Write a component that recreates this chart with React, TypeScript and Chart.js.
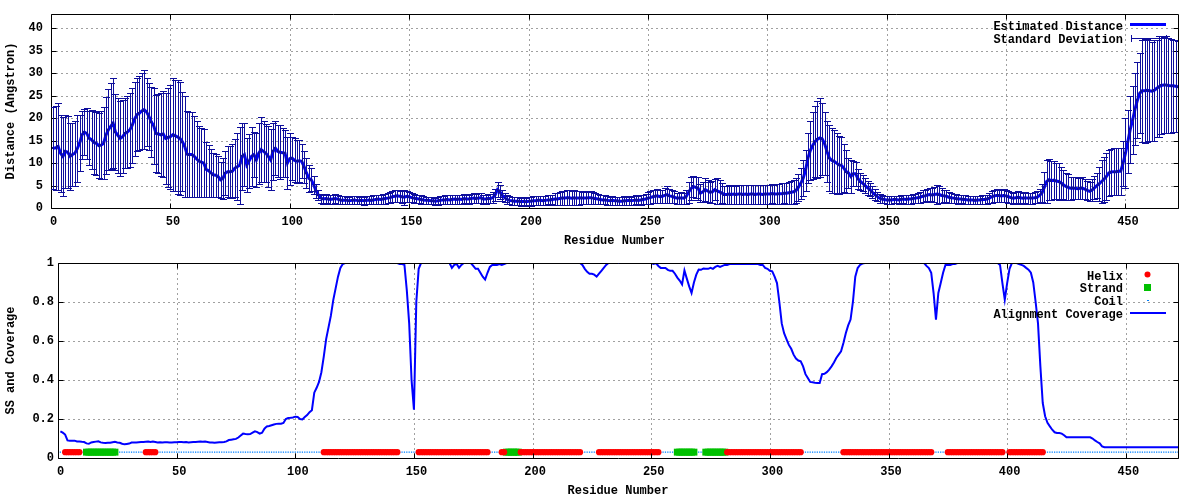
import React, { useEffect, useRef } from 'react';
import { Chart, registerables } from 'chart.js';

Chart.register(...registerables);

// ---------------- data ----------------
const xTicks = [0, 50, 100, 150, 200, 250, 300, 350, 400, 450];
const distanceTicks = [0, 5, 10, 15, 20, 25, 30, 35, 40];
const coverageTicks = [0, 0.2, 0.4, 0.6, 0.8, 1];
const xMax = 472;
const distanceMax = 43.2;
const ssTrackValue = 0.03;

// Estimated distance per residue (residue 1..472)
const meanDistance = [
  13.3, 13.4, 13.7, 12.2, 11.5, 12.6, 12.4, 11.5, 11.9, 12.2,
  13.2, 14.5, 16.3, 16.9, 16.6, 15.5, 15.2, 14.6, 14.4, 13.9,
  14.0, 14.4, 16.2, 17.4, 18.2, 18.9, 16.9, 16.2, 15.5, 15.9,
  16.6, 16.9, 17.4, 18.4, 19.8, 20.8, 21.1, 21.6, 21.9, 21.4,
  20.4, 19.2, 18.3, 16.6, 16.5, 16.3, 16.5, 15.5, 15.7, 15.9,
  16.3, 16.1, 15.8, 15.5, 14.8, 13.7, 12.0, 11.9, 11.9, 11.5,
  10.9, 10.4, 10.2, 10.0, 8.6, 8.3, 7.8, 7.4, 7.3, 7.0,
  6.3, 6.6, 7.8, 8.1, 8.1, 8.2, 8.9, 9.2, 9.5, 11.5,
  11.9, 9.6, 10.5, 11.5, 11.9, 10.7, 12.2, 13.0, 12.6, 12.2,
  11.5, 10.7, 12.6, 13.3, 12.6, 12.4, 12.3, 12.2, 10.0, 11.0,
  11.1, 10.6, 10.4, 10.5, 10.4, 9.2, 7.8, 6.6, 6.3, 5.2,
  3.8, 2.9, 2.2, 2.0, 2.1, 2.0, 1.9, 2.0, 2.1, 2.0,
  1.8, 1.7, 1.8, 1.7, 1.6, 1.7, 1.8, 1.7, 1.6, 1.7,
  1.6, 1.7, 1.8, 1.7, 1.8, 1.9, 2.0, 1.9, 2.0, 2.1,
  2.2, 2.3, 2.5, 2.6, 2.7, 2.6, 2.5, 2.4, 2.6, 2.5,
  2.3, 2.2, 2.1, 2.0, 1.9, 1.8, 1.7, 1.7, 1.6, 1.6,
  1.5, 1.6, 1.7, 1.8, 1.8, 1.9, 1.8, 1.9, 2.0, 1.9,
  2.0, 1.9, 2.1, 2.0, 2.0, 2.1, 2.2, 2.1, 2.2, 2.3,
  2.0, 2.0, 2.1, 2.1, 2.3, 2.9, 4.1, 3.6, 2.8, 2.3,
  1.9, 1.7, 1.6, 1.5, 1.5, 1.5, 1.4, 1.5, 1.4, 1.5,
  1.5, 1.6, 1.6, 1.7, 1.7, 1.6, 1.7, 1.8, 1.8, 1.9,
  2.0, 2.0, 2.1, 2.2, 2.2, 2.3, 2.3, 2.2, 2.3, 2.2,
  2.2, 2.3, 2.2, 2.2, 2.3, 2.3, 2.2, 2.1, 2.0, 1.9,
  1.8, 1.8, 1.7, 1.6, 1.7, 1.6, 1.6, 1.5, 1.5, 1.6,
  1.6, 1.7, 1.6, 1.7, 1.8, 1.7, 1.8, 1.9, 2.0, 2.2,
  2.3, 2.5, 2.6, 2.7, 2.5, 2.6, 2.8, 3.0, 2.7, 2.6,
  2.4, 2.2, 2.2, 2.3, 2.2, 2.5, 3.5, 4.3, 4.8, 4.6,
  4.4, 3.3, 3.6, 4.1, 3.8, 3.5, 3.6, 4.1, 3.8, 3.6,
  3.3, 3.0, 3.0, 3.1, 3.0, 3.1, 3.0, 3.1, 3.1, 3.0,
  3.1, 3.0, 3.1, 3.1, 3.0, 3.1, 3.1, 3.0, 3.1, 3.1,
  3.1, 3.2, 3.1, 3.1, 3.2, 3.2, 3.3, 3.3, 3.4, 3.5,
  3.6, 3.9, 4.6, 5.5, 6.6, 8.4, 11.1, 12.8, 13.9, 14.8,
  15.3, 15.6, 15.4, 14.3, 12.6, 11.1, 10.6, 10.4, 10.0, 9.6,
  9.5, 8.9, 8.1, 7.8, 7.0, 7.6, 7.6, 6.5, 5.9, 5.5,
  5.0, 4.5, 4.1, 3.5, 3.0, 2.6, 2.2, 2.0, 1.9, 1.8,
  1.8, 1.8, 1.9, 1.9, 1.8, 1.9, 2.0, 1.9, 2.0, 2.0,
  2.1, 2.2, 2.3, 2.4, 2.6, 2.7, 2.9, 3.0, 2.9, 3.0,
  3.1, 3.0, 2.8, 2.7, 2.6, 2.4, 2.3, 2.2, 2.1, 2.0,
  2.0, 1.9, 1.9, 1.8, 1.8, 1.8, 1.7, 1.8, 1.8, 1.9,
  1.9, 2.0, 2.2, 2.5, 2.7, 2.8, 2.8, 2.7, 2.8, 2.7,
  2.5, 2.3, 2.2, 2.3, 2.4, 2.3, 2.2, 2.3, 2.2, 2.2,
  2.2, 2.3, 2.4, 2.8, 3.3, 4.6, 5.9, 6.3, 6.1, 6.2,
  6.0, 5.9, 5.6, 5.2, 4.8, 4.6, 4.4, 4.4, 4.4, 4.3,
  4.4, 4.4, 4.2, 3.9, 3.7, 4.0, 4.5, 5.0, 5.4, 5.9,
  6.4, 7.0, 7.8, 8.0, 8.1, 8.1, 8.2, 8.2, 10.0, 12.2,
  14.8, 17.5, 19.6, 22.0, 24.0, 25.6, 26.1, 26.1, 26.2, 26.1,
  26.0, 26.2, 26.6, 27.0, 27.3, 27.4, 27.4, 27.3, 27.2, 27.2,
  27.1, 27.0,
];

// Standard deviation per residue (residue 1..472)
const stdDeviation = [
  9.1, 9.3, 9.6, 8.6, 8.8, 8.2, 8.0, 7.4, 7.0, 7.2,
  7.4, 6.2, 5.4, 5.2, 5.6, 6.0, 6.6, 7.0, 7.0, 7.2,
  7.6, 8.0, 8.6, 9.0, 9.6, 10.1, 8.5, 8.4, 8.4, 8.2,
  7.8, 8.0, 8.2, 8.3, 8.3, 8.1, 8.2, 8.4, 8.8, 7.5,
  7.4, 7.8, 8.4, 8.6, 8.8, 9.2, 9.6, 10.2, 11.0, 11.6,
  12.6, 12.4, 12.6, 12.5, 11.1, 11.2, 9.5, 9.4, 9.4, 9.0,
  8.4, 7.9, 7.7, 7.5, 6.1, 5.8, 5.3, 4.9, 4.8, 4.5,
  4.0, 4.5, 5.0, 5.6, 5.8, 6.0, 6.4, 7.4, 8.5, 7.5,
  7.0, 6.0, 6.0, 6.5, 5.0, 6.0, 6.8, 7.2, 6.8, 6.5,
  6.8, 6.8, 6.3, 6.0, 5.8, 6.0, 5.5, 5.2, 5.8, 5.8,
  4.8, 4.9, 4.8, 4.6, 3.8, 3.6, 3.4, 3.0, 2.6, 2.0,
  1.6, 1.2, 1.0, 1.0, 1.0, 1.0, 1.0, 1.0, 1.0, 1.0,
  0.9, 0.9, 0.9, 0.8, 0.8, 0.9, 0.9, 0.9, 0.8, 0.9,
  0.9, 0.9, 0.9, 0.9, 1.0, 1.0, 1.0, 1.0, 1.1, 1.1,
  1.1, 1.2, 1.2, 1.3, 1.3, 1.2, 1.3, 1.7, 1.2, 1.1,
  1.0, 1.0, 0.9, 0.9, 0.9, 0.9, 0.8, 0.8, 0.8, 0.8,
  0.8, 0.9, 0.9, 0.9, 1.0, 1.0, 1.0, 1.0, 1.0, 1.0,
  1.0, 1.0, 1.0, 1.0, 1.0, 1.0, 1.1, 1.0, 1.1, 1.1,
  1.0, 1.0, 1.0, 1.0, 1.2, 1.4, 1.7, 1.5, 1.2, 1.0,
  0.9, 0.9, 0.9, 0.9, 0.9, 0.9, 0.9, 0.9, 0.9, 0.9,
  1.0, 1.0, 1.0, 1.0, 1.0, 1.0, 1.0, 1.0, 1.1, 1.1,
  1.3, 1.3, 1.4, 1.5, 1.5, 1.6, 1.6, 1.5, 1.6, 1.5,
  1.5, 1.5, 1.4, 1.4, 1.5, 1.5, 1.4, 1.3, 1.2, 1.1,
  1.0, 1.0, 1.0, 0.9, 1.0, 0.9, 0.9, 0.9, 0.9, 1.0,
  0.9, 1.0, 0.9, 1.0, 1.0, 1.0, 1.1, 1.1, 1.2, 1.3,
  1.4, 1.4, 1.5, 1.5, 1.4, 1.5, 1.7, 1.8, 1.6, 1.5,
  1.3, 1.2, 1.2, 1.3, 1.2, 1.6, 2.3, 2.5, 2.3, 2.4,
  2.6, 2.0, 2.3, 2.6, 2.4, 2.3, 2.4, 2.3, 2.8, 2.6,
  2.2, 2.0, 2.0, 2.1, 2.0, 2.1, 2.0, 2.1, 2.1, 2.1,
  2.1, 2.1, 2.1, 2.1, 2.1, 2.1, 2.1, 2.1, 2.1, 2.1,
  2.1, 2.1, 2.1, 2.2, 2.2, 2.3, 2.2, 2.3, 2.4, 2.5,
  2.6, 2.8, 3.0, 3.4, 4.0, 4.6, 5.6, 6.5, 7.5, 8.0,
  8.6, 8.8, 8.0, 7.0, 6.8, 7.3, 7.3, 7.0, 6.8, 6.4,
  6.2, 5.3, 4.8, 3.3, 3.6, 2.8, 2.6, 2.2, 2.0, 1.8,
  1.6, 1.5, 1.4, 1.3, 1.2, 1.0, 1.0, 0.9, 0.8, 0.8,
  0.8, 0.8, 0.8, 0.8, 0.9, 0.9, 0.9, 0.9, 1.0, 1.0,
  1.0, 1.0, 1.1, 1.2, 1.3, 1.3, 1.4, 1.5, 1.6, 1.6,
  2.1, 1.8, 1.6, 1.4, 1.3, 1.2, 1.1, 1.0, 1.0, 1.0,
  0.9, 0.9, 0.9, 0.9, 0.9, 0.9, 0.9, 0.9, 0.9, 0.9,
  0.9, 1.0, 1.1, 1.3, 1.4, 1.5, 1.5, 1.4, 1.4, 1.4,
  1.3, 1.2, 1.2, 1.3, 1.3, 1.3, 1.2, 1.2, 1.2, 1.2,
  1.2, 1.2, 1.3, 1.5, 2.0, 3.4, 4.8, 4.6, 4.3, 4.2,
  4.0, 4.1, 3.5, 3.2, 3.0, 2.9, 2.6, 2.4, 2.5, 2.4,
  2.3, 2.4, 2.3, 2.2, 2.2, 2.4, 2.6, 2.8, 3.8, 4.8,
  5.0, 5.2, 5.2, 5.2, 5.3, 5.3, 5.2, 5.2, 5.0, 7.8,
  7.0, 7.5, 7.5, 8.0, 8.5, 9.0, 11.3, 11.6, 11.5, 11.2,
  11.0, 11.2, 10.8, 11.2, 10.9, 10.7, 10.8, 10.6, 10.4, 10.3,
  10.2, 10.1,
];

// Alignment coverage per residue (residue 1..472)
const alignmentCoverage = [
  0.137, 0.13, 0.12, 0.09, 0.088, 0.088, 0.089, 0.085, 0.085, 0.083,
  0.082, 0.075, 0.073, 0.08, 0.082, 0.084, 0.086, 0.08, 0.078, 0.077,
  0.078, 0.078, 0.081, 0.083, 0.08, 0.078, 0.073, 0.07, 0.072, 0.074,
  0.079, 0.08, 0.08, 0.081, 0.082, 0.082, 0.083, 0.084, 0.082, 0.084,
  0.082, 0.08, 0.081, 0.08, 0.081, 0.081, 0.08, 0.08, 0.081, 0.081,
  0.082, 0.082, 0.081, 0.082, 0.08, 0.081, 0.082, 0.082, 0.083, 0.084,
  0.083, 0.084, 0.082, 0.08, 0.08, 0.078, 0.08, 0.081, 0.081, 0.082,
  0.085, 0.092, 0.094, 0.096, 0.098, 0.105, 0.115, 0.125, 0.123, 0.122,
  0.123, 0.13, 0.137, 0.133, 0.125, 0.13, 0.15, 0.162, 0.164, 0.168,
  0.172, 0.175, 0.176, 0.176, 0.18, 0.2, 0.205, 0.206, 0.208, 0.212,
  0.21, 0.2, 0.198, 0.21, 0.22, 0.235, 0.245, 0.335, 0.36, 0.39,
  0.44, 0.52, 0.61, 0.67, 0.73, 0.81, 0.87, 0.93, 0.975, 0.995,
  1, 1, 1, 1, 1, 1, 1, 1, 1, 1,
  1, 1, 1, 1, 1, 1, 1, 1, 1, 1,
  1, 1, 1, 0.995, 0.995, 0.99, 0.86, 0.69, 0.4, 0.248,
  0.8, 0.97, 1, 1, 1, 1, 1, 1, 1, 1,
  1, 1, 1, 1, 1, 0.975, 0.99, 0.995, 0.975, 0.99,
  1, 1, 1, 1, 0.985, 0.97, 0.97, 0.95, 0.93, 0.915,
  0.95, 0.98, 0.99, 0.99, 0.99, 0.995, 0.99, 0.995, 1, 1,
  1, 1, 1, 1, 1, 1, 1, 1, 1, 1,
  1, 1, 1, 1, 1, 1, 1, 1, 1, 1,
  1, 1, 1, 1, 1, 1, 1, 1, 1, 1,
  0.99, 0.97, 0.955, 0.945, 0.945, 0.94, 0.93, 0.945, 0.96, 0.975,
  0.99, 1, 1, 1, 1, 1, 1, 1, 1, 1,
  1, 1, 1, 1, 1, 1, 1, 1, 1, 1,
  0.995, 1, 0.985, 0.975, 0.975, 0.975, 0.965, 0.96, 0.96, 0.945,
  0.925, 0.91, 0.89, 0.962, 0.92, 0.88, 0.846, 0.9, 0.94, 0.966,
  0.965, 0.972, 0.97, 0.97, 0.975, 0.97, 0.98, 0.985, 0.98, 0.985,
  0.99, 0.99, 0.995, 0.995, 0.995, 0.995, 0.995, 0.995, 0.995, 0.995,
  0.995, 0.995, 0.995, 0.995, 0.995, 0.99, 0.99, 0.975, 0.97, 0.96,
  0.957, 0.93, 0.897, 0.8, 0.69, 0.64, 0.61, 0.58, 0.56, 0.53,
  0.51, 0.5, 0.496, 0.47, 0.43, 0.41, 0.39, 0.388, 0.386, 0.385,
  0.385, 0.43, 0.432, 0.44, 0.453, 0.47, 0.49, 0.513, 0.53, 0.547,
  0.59, 0.64, 0.68, 0.71, 0.8, 0.93, 0.974, 0.99, 0.997, 1,
  1, 1, 1, 1, 1, 1, 1, 1, 1, 1,
  1, 1, 1, 1, 1, 1, 1, 1, 1, 1,
  1, 1, 1, 1, 1, 0.985, 0.974, 0.95, 0.846, 0.709,
  0.846, 0.897, 0.95, 0.99, 0.99, 0.99, 0.995, 0.995, 1, 1,
  1, 1, 1, 1, 1, 1, 1, 1, 1, 1,
  1, 1, 1, 1, 1, 1, 0.99, 0.897, 0.812, 0.897,
  0.97, 1, 1, 1, 0.995, 0.99, 0.985, 0.975, 0.966, 0.95,
  0.9, 0.8, 0.69, 0.47, 0.282, 0.214, 0.18, 0.162, 0.145, 0.132,
  0.128, 0.128, 0.125, 0.117, 0.106, 0.106, 0.106, 0.106, 0.106, 0.106,
  0.106, 0.106, 0.106, 0.106, 0.106, 0.1, 0.09, 0.082, 0.075, 0.06,
  0.055, 0.055, 0.055, 0.055, 0.055, 0.055, 0.055, 0.055, 0.055, 0.055,
  0.055, 0.055, 0.055, 0.055, 0.055, 0.055, 0.055, 0.055, 0.055, 0.055,
  0.055, 0.055, 0.055, 0.055, 0.055, 0.055, 0.055, 0.055, 0.055, 0.055,
  0.055, 0.055,
];

// Secondary structure segments [first residue, last residue]
const helixSegments = [
  [3, 9], [37, 41], [112, 143], [152, 181], [187, 188], [195, 220],
  [228, 253], [282, 313], [331, 368], [375, 398], [401, 415],
];
const strandSegments = [[12, 24], [189, 194], [261, 268], [273, 281]];

const residues = meanDistance.map((_, i) => i + 1);

// ---------------- styles ----------------
const FONT_FAMILY = '"Liberation Mono", "DejaVu Sans Mono", monospace';
const FONT_SIZE = 12;
const CANVAS_FONT = `bold ${FONT_SIZE}px ${FONT_FAMILY}`;
const LINE_BLUE = '#0000ff';
const BAR_NAVY = '#0e0e9c';
const GRID_GRAY = '#a0a0a0';
const HELIX_RED = '#ff0000';
const STRAND_GREEN = '#00c000';
const COIL_BLUE = '#0080ff';

const tickFont = { family: FONT_FAMILY, size: FONT_SIZE, weight: 'bold' as const };

const inSegments = (r: number, segs: number[][]) => segs.some(([a, b]) => r >= a && r <= b);

const crisp = (v: number) => Math.round(v) + 0.5;

// Grid, border and inward mirror ticks in gnuplot fashion
const gnuplotFrame = {
  id: 'gnuplotFrame',
  beforeDatasetsDraw(chart: any) {
    const { ctx, chartArea: a, scales } = chart;
    ctx.save();
    ctx.strokeStyle = GRID_GRAY;
    ctx.lineWidth = 1;
    ctx.setLineDash([2, 3]);
    ctx.beginPath();
    for (const t of scales.x.ticks) {
      const px = crisp(scales.x.getPixelForValue(t.value));
      if (px <= a.left + 1.5 || px >= a.right - 1) continue;
      ctx.moveTo(px, a.top);
      ctx.lineTo(px, a.bottom);
    }
    for (const t of scales.y.ticks) {
      const py = crisp(scales.y.getPixelForValue(t.value));
      if (py <= a.top + 1.5 || py >= a.bottom - 1) continue;
      ctx.moveTo(a.left, py);
      ctx.lineTo(a.right, py);
    }
    ctx.stroke();
    ctx.restore();
  },
  afterDatasetsDraw(chart: any) {
    const { ctx, chartArea: a, scales } = chart;
    const L = crisp(a.left), R = crisp(a.right), T = crisp(a.top), B = crisp(a.bottom);
    ctx.save();
    ctx.setLineDash([]);
    ctx.strokeStyle = '#000';
    ctx.lineWidth = 1;
    ctx.beginPath();
    ctx.rect(L, T, R - L, B - T);
    const tl = 5;
    for (const t of scales.x.ticks) {
      const px = crisp(scales.x.getPixelForValue(t.value));
      ctx.moveTo(px, B); ctx.lineTo(px, B - tl);
      ctx.moveTo(px, T); ctx.lineTo(px, T + tl);
    }
    for (const t of scales.y.ticks) {
      const py = crisp(scales.y.getPixelForValue(t.value));
      ctx.moveTo(L, py); ctx.lineTo(L + tl, py);
      ctx.moveTo(R, py); ctx.lineTo(R - tl, py);
    }
    ctx.stroke();
    ctx.restore();
  },
};

const errorBars = {
  id: 'errorBars',
  afterDatasetsDraw(chart: any) {
    const { ctx, chartArea: a, scales: { x, y } } = chart;
    ctx.save();
    ctx.beginPath();
    ctx.rect(a.left, a.top, a.right - a.left, a.bottom - a.top);
    ctx.clip();
    ctx.strokeStyle = BAR_NAVY;
    ctx.fillStyle = BAR_NAVY;
    ctx.lineWidth = 1;
    ctx.beginPath();
    residues.forEach((r, i) => {
      const px = crisp(x.getPixelForValue(r));
      const yt = crisp(y.getPixelForValue(meanDistance[i] + stdDeviation[i]));
      const yb = crisp(y.getPixelForValue(meanDistance[i] - stdDeviation[i]));
      ctx.moveTo(px, yt); ctx.lineTo(px, yb);
      ctx.moveTo(px - 3.5, yt); ctx.lineTo(px + 3.5, yt);
      ctx.moveTo(px - 3.5, yb); ctx.lineTo(px + 3.5, yb);
    });
    ctx.stroke();
    residues.forEach((r, i) => {
      const px = Math.round(x.getPixelForValue(r));
      const py = Math.round(y.getPixelForValue(meanDistance[i]));
      ctx.fillRect(px - 1, py - 1, 2, 2);
    });
    ctx.restore();
  },
};

const topLegend = {
  id: 'topLegend',
  afterDraw(chart: any) {
    const { ctx } = chart;
    ctx.save();
    ctx.font = CANVAS_FONT;
    ctx.fillStyle = '#000';
    ctx.textAlign = 'right';
    ctx.textBaseline = 'alphabetic';
    ctx.fillText('Estimated Distance', 1123, 29.5);
    ctx.fillText('Standard Deviation', 1123, 42.5);
    ctx.strokeStyle = LINE_BLUE;
    ctx.lineWidth = 3;
    ctx.beginPath();
    ctx.moveTo(1130, 24.5); ctx.lineTo(1166, 24.5);
    ctx.stroke();
    ctx.strokeStyle = BAR_NAVY;
    ctx.lineWidth = 1;
    ctx.beginPath();
    ctx.moveTo(1131, 38.5); ctx.lineTo(1167, 38.5);
    ctx.moveTo(1131.5, 35); ctx.lineTo(1131.5, 42);
    ctx.moveTo(1166.5, 35); ctx.lineTo(1166.5, 42);
    ctx.stroke();
    ctx.restore();
  },
};

const bottomLegend = {
  id: 'bottomLegend',
  afterDraw(chart: any) {
    const { ctx } = chart;
    ctx.save();
    ctx.font = CANVAS_FONT;
    ctx.fillStyle = '#000';
    ctx.textAlign = 'right';
    ctx.textBaseline = 'alphabetic';
    ctx.fillText('Helix', 1123, 29.5);
    ctx.fillText('Strand', 1123, 42.3);
    ctx.fillText('Coil', 1123, 55);
    ctx.fillText('Alignment Coverage', 1123, 67.7);
    ctx.fillStyle = HELIX_RED;
    ctx.beginPath();
    ctx.arc(1147.5, 24.5, 3, 0, Math.PI * 2);
    ctx.fill();
    ctx.fillStyle = STRAND_GREEN;
    ctx.fillRect(1144, 34, 7, 7);
    ctx.fillStyle = COIL_BLUE;
    ctx.fillRect(1147, 50, 2, 1);
    ctx.strokeStyle = LINE_BLUE;
    ctx.lineWidth = 2;
    ctx.beginPath();
    ctx.moveTo(1130, 63); ctx.lineTo(1166, 63);
    ctx.stroke();
    ctx.restore();
  },
};

function xScale() {
  return {
    type: 'linear' as const,
    min: 0,
    max: xMax,
    afterBuildTicks: (s: any) => { s.ticks = xTicks.map((v) => ({ value: v })); },
    afterFit: (s: any) => {
      s.height = 42;
      s.paddingLeft = 0; s.paddingRight = 0; s.paddingTop = 0; s.paddingBottom = 0;
    },
    grid: { display: false, drawTicks: false },
    border: { display: false },
    ticks: {
      font: tickFont, color: '#000', padding: 7, maxRotation: 0, autoSkip: false, labelOffset: 2.5,
      callback: (v: number) => String(v),
    },
    title: { display: true, text: 'Residue Number', font: tickFont, color: '#000', padding: { top: 0, bottom: 2.2 } },
  };
}

function yScale(width: number, max: number, ticksList: number[], title: string, pad: number) {
  return {
    type: 'linear' as const,
    min: 0,
    max,
    afterBuildTicks: (s: any) => { s.ticks = ticksList.map((v) => ({ value: v })); },
    afterFit: (s: any) => {
      s.width = width;
      s.paddingLeft = 0; s.paddingRight = 0; s.paddingTop = 0; s.paddingBottom = 0;
    },
    grid: { display: false, drawTicks: false },
    border: { display: false },
    ticks: { font: tickFont, color: '#000', padding: pad, autoSkip: false, callback: (v: number) => String(v) },
    title: { display: true, text: title, font: tickFont, color: '#000', padding: { top: 4, bottom: 0 } },
  };
}

function topConfig(): any {
  return {
    type: 'line',
    data: {
      datasets: [
        {
          label: 'Estimated Distance',
          data: residues.map((r, i) => ({ x: r, y: meanDistance[i] })),
          borderColor: LINE_BLUE,
          borderWidth: 3,
          pointRadius: 0,
          tension: 0,
          fill: false,
        },
      ],
    },
    options: {
      animation: false,
      responsive: false,
      devicePixelRatio: 1,
      events: [],
      layout: { autoPadding: false, padding: { top: 14, right: 22, left: 0, bottom: 0 } },
      plugins: { legend: { display: false }, tooltip: { enabled: false } },
      scales: {
        x: xScale(),
        y: yScale(51, distanceMax, distanceTicks, 'Distance (Angstron)', 8),
      },
    },
    plugins: [gnuplotFrame, errorBars, topLegend],
  };
}

function bottomConfig(): any {
  const helix = residues.filter((r) => inSegments(r, helixSegments)).map((r) => ({ x: r, y: ssTrackValue }));
  const strand = residues.filter((r) => inSegments(r, strandSegments)).map((r) => ({ x: r, y: ssTrackValue }));
  const coil = residues
    .filter((r) => !inSegments(r, helixSegments) && !inSegments(r, strandSegments))
    .map((r) => ({ x: r, y: ssTrackValue }));
  return {
    type: 'line',
    data: {
      datasets: [
        {
          label: 'Alignment Coverage',
          data: residues.map((r, i) => ({ x: r, y: alignmentCoverage[i] })),
          borderColor: LINE_BLUE,
          borderWidth: 2,
          pointRadius: 0,
          tension: 0,
          order: 0,
        },
        {
          label: 'Helix',
          data: helix,
          showLine: false,
          pointStyle: 'circle',
          pointRadius: 3.1,
          pointBorderWidth: 0,
          pointBackgroundColor: HELIX_RED,
          borderColor: HELIX_RED,
          order: 1,
        },
        {
          label: 'Strand',
          data: strand,
          showLine: false,
          pointStyle: 'rect',
          pointRadius: 4.9,
          pointBorderWidth: 0,
          pointBackgroundColor: STRAND_GREEN,
          borderColor: STRAND_GREEN,
          order: 2,
        },
        {
          label: 'Coil',
          data: coil,
          showLine: false,
          pointStyle: 'rect',
          pointRadius: 0.9,
          pointBorderWidth: 0,
          pointBackgroundColor: COIL_BLUE,
          borderColor: COIL_BLUE,
          order: 3,
        },
      ],
    },
    options: {
      animation: false,
      responsive: false,
      devicePixelRatio: 1,
      events: [],
      layout: { autoPadding: false, padding: { top: 13, right: 22, left: 0, bottom: 0 } },
      plugins: { legend: { display: false }, tooltip: { enabled: false } },
      scales: {
        x: xScale(),
        y: yScale(58, 1, coverageTicks, 'SS and Coverage', 4),
      },
    },
    plugins: [gnuplotFrame, bottomLegend],
  };
}

export default function App() {
  const topRef = useRef<HTMLCanvasElement>(null);
  const bottomRef = useRef<HTMLCanvasElement>(null);

  useEffect(() => {
    const c1 = new Chart(topRef.current as HTMLCanvasElement, topConfig());
    const c2 = new Chart(bottomRef.current as HTMLCanvasElement, bottomConfig());
    return () => {
      c1.destroy();
      c2.destroy();
    };
  }, []);

  return (
    <div style={{ position: 'absolute', left: 0, top: 0, width: 1200, height: 500, background: '#fff' }}>
      <div style={{ width: 1200, height: 250 }}>
        <canvas ref={topRef} width={1200} height={250} style={{ display: 'block' }} />
      </div>
      <div style={{ width: 1200, height: 250 }}>
        <canvas ref={bottomRef} width={1200} height={250} style={{ display: 'block' }} />
      </div>
    </div>
  );
}
